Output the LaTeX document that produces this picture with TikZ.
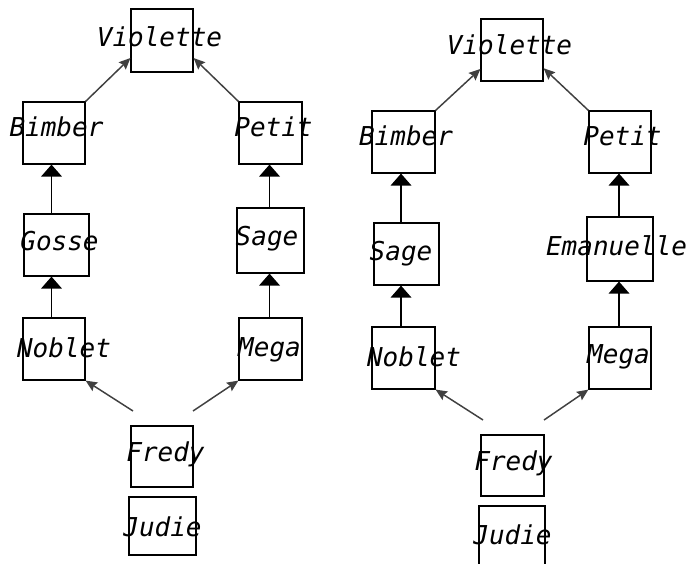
\documentclass[tikz,border=0pt]{standalone}
\usepackage{fontspec}
\newfontfamily\labelfont{DejaVu Sans Mono Oblique}
\usetikzlibrary{arrows.meta}

\tikzset{
  bx/.style 2 args={draw=black, line width=0.9pt, inner sep=0pt,
    minimum width=#1*0.75pt, minimum height=#2*0.75pt},
  lbl/.style={anchor=base, inner sep=0pt, text=black,
    font=\labelfont\fontsize{19.5pt}{20pt}\selectfont},
  dup/.style={draw=black!75, line width=1.1pt,
    -{Stealth[length=8.5pt, width=7.5pt, inset=1.2pt]}},
  vup/.style={draw=black, line width=1.1pt,
    -{Triangle[length=9pt, width=15.5pt]}},
}

\begin{document}
\begin{tikzpicture}[x=0.75pt, y=-0.75pt]
  \fill[white] (0,0) rectangle (691,563);
  \useasboundingbox (0,0) rectangle (691,563);
  \clip (0,0) rectangle (691,563);

  % ---------- left family tree ----------
  \node[bx={62}{63}] (vL) at (162,40.5) {};
  \node[bx={62}{62}] (bL) at (54,133) {};
  \node[bx={63}{62}] (pL) at (270.5,133) {};
  \node[bx={65}{62}] (gL) at (56.5,245) {};
  \node[bx={67}{65}] (sL) at (270.5,240.5) {};
  \node[bx={62}{62}] (nL) at (54,349) {};
  \node[bx={63}{62}] (mL) at (270.5,349) {};
  \node[bx={62}{61}] (fL) at (162,456.5) {};
  \node[bx={67}{58}] (jL) at (162.5,526) {};

  \coordinate (cLa) at (51.5,0);
  \coordinate (cLb) at (269.5,0);
  \coordinate (tLa) at (133,411);
  \coordinate (tLb) at (193,411);

  \draw[dup] (bL.north east) -- (vL.209);
  \draw[dup] (pL.north west) -- (vL.331);
  \draw[vup] (gL.north -| cLa) -- (bL.south -| cLa);
  \draw[vup] (nL.north -| cLa) -- (gL.south -| cLa);
  \draw[vup] (sL.north -| cLb) -- (pL.south -| cLb);
  \draw[vup] (mL.north -| cLb) -- (sL.south -| cLb);
  \draw[dup] (tLa) -- (nL.south east);
  \draw[dup] (tLb) -- (mL.south west);

  \node[lbl] (tvL) at (159.5,46.5) {Violette};
  \node[lbl] (tbL) at (56.5,136.5) {Bimber};
  \node[lbl] (tpL) at (273.5,136.5) {Petit};
  \node[lbl] (tgL) at (59.5,250.5) {Gosse};
  \node[lbl] (tsL) at (267,245) {Sage};
  \node[lbl] (tnL) at (64,357) {Noblet};
  \node[lbl] (tmL) at (269.5,356) {Mega};
  \node[lbl] (tfL) at (165.5,461.5) {Fredy};
  \node[lbl] (tjL) at (162.5,536) {Judie};

  % ---------- right family tree ----------
  \node[bx={62}{62}] (vR) at (512,50) {};
  \node[bx={63}{62}] (bR) at (403.5,142) {};
  \node[bx={62}{62}] (pR) at (620,142) {};
  \node[bx={65}{62}] (sR) at (406.5,254) {};
  \node[bx={66}{64}] (eR) at (620,249) {};
  \node[bx={63}{62}] (nR) at (403.5,358) {};
  \node[bx={62}{62}] (mR) at (620,358) {};
  \node[bx={63}{61}] (fR) at (512.5,465.5) {};
  \node[bx={66}{64}] (jR) at (512,538) {};

  \coordinate (cRa) at (401,0);
  \coordinate (cRb) at (619,0);
  \coordinate (tRa) at (483,420);
  \coordinate (tRb) at (544,420);

  \draw[dup] (bR.north east) -- (vR.211);
  \draw[dup] (pR.north west) -- (vR.330);
  \draw[vup] (sR.north -| cRa) -- (bR.south -| cRa);
  \draw[vup] (nR.north -| cRa) -- (sR.south -| cRa);
  \draw[vup] (eR.north -| cRb) -- (pR.south -| cRb);
  \draw[vup] (mR.north -| cRb) -- (eR.south -| cRb);
  \draw[dup] (tRa) -- (nR.south east);
  \draw[dup] (tRb) -- (mR.south west);

  \node[lbl] (tvR) at (509.5,55) {Violette};
  \node[lbl] (tbR) at (406,145.5) {Bimber};
  \node[lbl] (tpR) at (622.5,145.5) {Petit};
  \node[lbl] (tsR) at (401,260) {Sage};
  \node[lbl] (teR) at (616.5,255) {Emanuelle};
  \node[lbl] (tnR) at (414,366) {Noblet};
  \node[lbl] (tmR) at (618.5,363.5) {Mega};
  \node[lbl] (tfR) at (513.5,470) {Fredy};
  \node[lbl] (tjR) at (512.5,544) {Judie};
\end{tikzpicture}
\end{document}
